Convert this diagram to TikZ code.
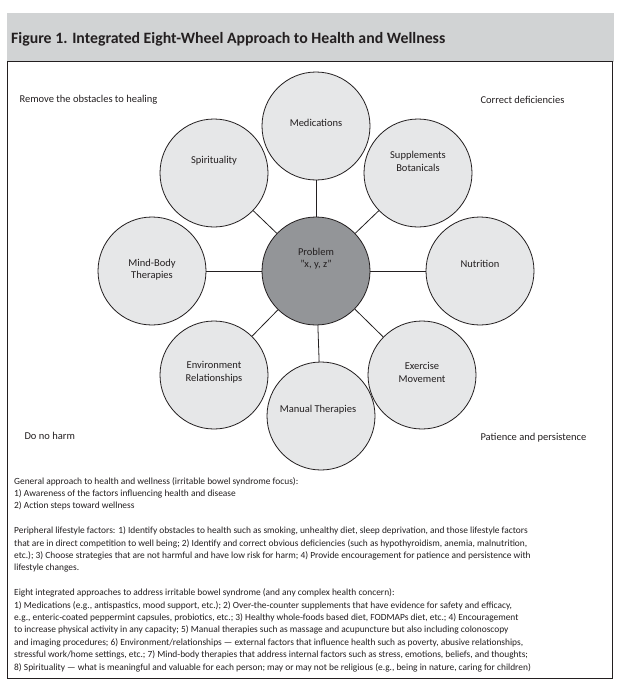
\documentclass[tikz,border=0pt]{standalone}
\usepackage{fontspec}
\setmainfont{Carlito}
\definecolor{hdr}{HTML}{D1D3D4}
\definecolor{wheelfill}{HTML}{E6E7E8}
\definecolor{hubfill}{HTML}{939598}
\definecolor{linec}{HTML}{231F20}
\definecolor{txt}{HTML}{231F20}
\begin{document}
\begin{tikzpicture}[x=1pt,y=-1pt,
  wheel/.style={circle,draw=linec,line width=0.8pt,fill=wheelfill,minimum size=108pt,inner sep=0pt},
  hub/.style={wheel,fill=hubfill},
  spoke/.style={draw=linec,line width=0.8pt},
  wl/.style={font=\fontsize{10.5}{12.6}\selectfont,text=txt,align=center},
  corner/.style={font=\fontsize{10.5}{12}\selectfont,text=txt}
]
\useasboundingbox (0,0) rectangle (616,685);
\fill[white] (0,0) rectangle (616,685);
% header band and frame
\fill[hdr] (7,13) rectangle (614,62);
\node[anchor=base west,inner sep=0pt,font=\fontsize{15.8}{18}\selectfont\bfseries,text=txt] (title) at (11,44)
  {Figure 1. Integrated Eight-Wheel Approach to Health and Wellness};
\draw[linec,line width=1pt] (7,62) rectangle (612,678);

% corner labels
\node[corner,anchor=west] (c1) at (16,100) {Remove the obstacles to healing};
\node[corner,anchor=west] (c2) at (477,100) {Correct deficiencies};
\node[corner,anchor=west] (c3) at (21,436) {Do no harm};
\node[corner,anchor=west] (c4) at (477,438) {Patience and persistence};

% circles
\node[hub] (hub) at (316,271) {};
\node[wheel] (med) at (316,126) {};
\node[wheel] (sup) at (418,173) {};
\node[wheel] (nut) at (480,271) {};
\node[wheel] (exe) at (422,375) {};
\node[wheel] (man) at (321,416) {};
\node[wheel] (env) at (214,375) {};
\node[wheel] (mind) at (152,271) {};
\node[wheel] (spi) at (214,173) {};

% spokes
\foreach \n in {med,sup,nut,exe,man,env,mind,spi}{
  \path[spoke] (hub) -- (\n);
}

% labels
\node[wl] (thub) at (316,258.5) {Problem\\"x, y, z"};
\node[wl] (tmed) at (316,123) {Medications};
\node[wl] (tsup) at (418,161.5) {Supplements\\Botanicals};
\node[wl] (tnut) at (480,264) {Nutrition};
\node[wl] (texe) at (422,372.5) {Exercise\\Movement};
\node[wl] (tman) at (318,410) {Manual Therapies};
\node[wl] (tenv) at (214,372) {Environment\\Relationships};
\node[wl] (tmind) at (152,269.5) {Mind-Body\\Therapies};
\node[wl] (tspi) at (214,160.7) {Spirituality};

% text block
\node[anchor=north west,inner sep=0pt,align=left,text=txt,font=\fontsize{9.4}{12.4}\selectfont] (body) at (14,477) {%
General approach to health and wellness (irritable bowel syndrome focus):\\
1) Awareness of the factors influencing health and disease\\
2) Action steps toward wellness\\[12.4pt]
Peripheral lifestyle factors: 1) Identify obstacles to health such as smoking, unhealthy diet, sleep deprivation, and those lifestyle factors\\
that are in direct competition to well being; 2) Identify and correct obvious deficiencies (such as hypothyroidism, anemia, malnutrition,\\
etc.); 3) Choose strategies that are not harmful and have low risk for harm; 4) Provide encouragement for patience and persistence with\\
lifestyle changes.\\[12.4pt]
Eight integrated approaches to address irritable bowel syndrome (and any complex health concern):\\
1) Medications (e.g., antispastics, mood support, etc.); 2) Over-the-counter supplements that have evidence for safety and efficacy,\\
e.g., enteric-coated peppermint capsules, probiotics, etc.; 3) Healthy whole-foods based diet, FODMAPs diet, etc.; 4) Encouragement\\
to increase physical activity in any capacity; 5) Manual therapies such as massage and acupuncture but also including colonoscopy\\
and imaging procedures; 6) Environment/relationships --- external factors that influence health such as poverty, abusive relationships,\\
stressful work/home settings, etc.; 7) Mind-body therapies that address internal factors such as stress, emotions, beliefs, and thoughts;\\
8) Spirituality --- what is meaningful and valuable for each person; may or may not be religious (e.g., being in nature, caring for children)};
\end{tikzpicture}
\end{document}
